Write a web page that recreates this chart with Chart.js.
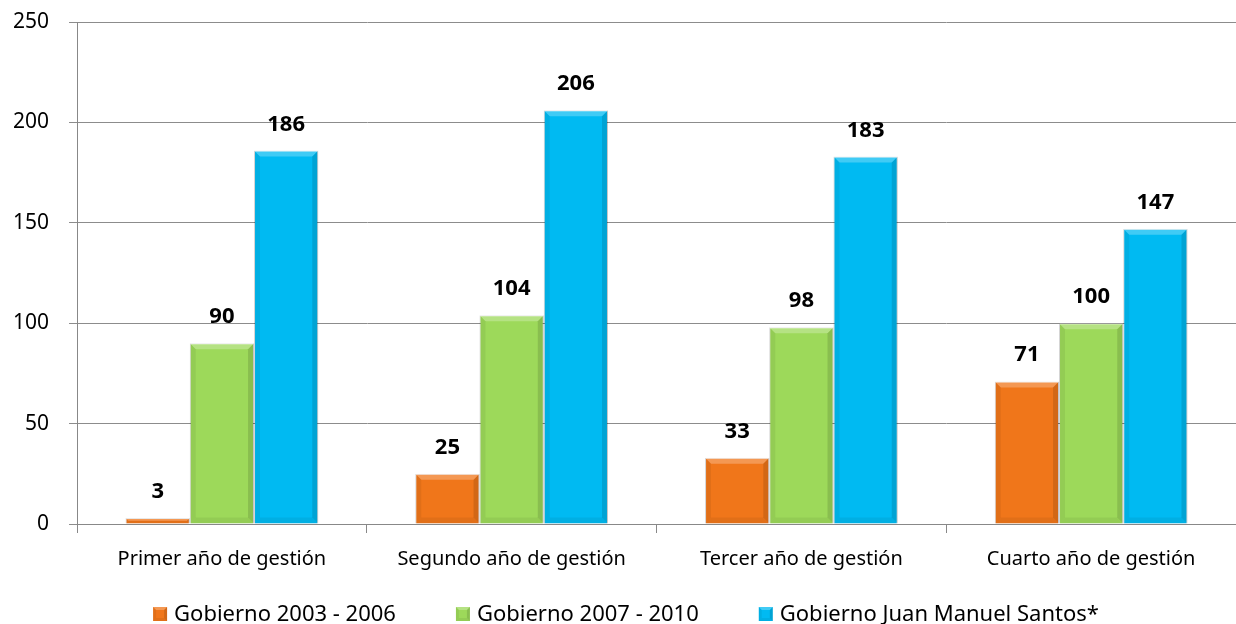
<!DOCTYPE html>
<html>
<head>
<meta charset="utf-8">
<script src="https://cdn.jsdelivr.net/npm/chart.js@4"></script>
<style>
  html, body { margin: 0; padding: 0; background: #fff; }
  #wrap { width: 1236px; height: 624px; position: relative; }
</style>
</head>
<body>
<div id="wrap"><canvas id="chart"></canvas></div>
<script>
// datos del gráfico
const categories = ['Primer año de gestión', 'Segundo año de gestión', 'Tercer año de gestión', 'Cuarto año de gestión'];
const seriesNames = ['Gobierno 2003 - 2006', 'Gobierno 2007 - 2010', 'Gobierno Juan Manuel Santos*'];
const gob2003 = [3, 25, 33, 71];
const gob2007 = [90, 104, 98, 100];
const gobSantos = [186, 206, 183, 147];
const yTicks = [0, 50, 100, 150, 200, 250];

const colors = ['#F0761A', '#9DD95A', '#00BAF2'];
const FONT = '"Noto Sans", "Open Sans", sans-serif';
const RIGHT_OVERFLOW = -17; // el área sigue más allá del borde derecho (imagen recortada)

// dibuja un rectángulo con bisel (barras y cuadritos de la leyenda)
function bevelRect(ctx, l, t, r, b, e) {
  ctx.fillStyle = 'rgba(255,255,255,0.25)';
  ctx.beginPath();
  ctx.moveTo(l, t); ctx.lineTo(r, t); ctx.lineTo(r - e, t + e); ctx.lineTo(l + e, t + e); ctx.closePath();
  ctx.fill();
  ctx.fillStyle = 'rgba(0,0,0,0.06)';
  ctx.beginPath();
  ctx.moveTo(l, t); ctx.lineTo(l + e, t + e); ctx.lineTo(l + e, b - e); ctx.lineTo(l, b); ctx.closePath();
  ctx.fill();
  ctx.fillStyle = 'rgba(0,0,0,0.12)';
  ctx.beginPath();
  ctx.moveTo(r, t); ctx.lineTo(r - e, t + e); ctx.lineTo(r - e, b - e); ctx.lineTo(r, b); ctx.closePath();
  ctx.fill();
  ctx.fillStyle = 'rgba(0,0,0,0.06)';
  ctx.beginPath();
  ctx.moveTo(l, b); ctx.lineTo(l + e, b - e); ctx.lineTo(r - e, b - e); ctx.lineTo(r, b); ctx.closePath();
  ctx.fill();
}

const bevel = {
  id: 'bevel',
  afterDatasetDraw(chart, args) {
    const { ctx } = chart;
    ctx.save();
    args.meta.data.forEach((bar) => {
      const l = bar.x - bar.width / 2, r = bar.x + bar.width / 2;
      const e = Math.min(6, (bar.base - bar.y) / 2);
      bevelRect(ctx, l, bar.y, r, bar.base, e);
    });
    ctx.restore();
  }
};

// etiquetas encima de las barras
const valueLabels = {
  id: 'valueLabels',
  afterDatasetsDraw(chart) {
    const { ctx } = chart;
    ctx.save();
    ctx.font = 'bold 22px ' + FONT;
    ctx.fillStyle = '#000';
    ctx.textAlign = 'center';
    ctx.textBaseline = 'alphabetic';
    chart.data.datasets.forEach((ds, i) => {
      chart.getDatasetMeta(i).data.forEach((bar, j) => {
        ctx.fillText(String(ds.data[j]), bar.x, bar.y - 20);
      });
    });
    ctx.restore();
  }
};

// leyenda propia (cuadrito pegado al texto, mucho espacio entre items)
const bottomLegend = {
  id: 'bottomLegend',
  afterDraw(chart) {
    const { ctx } = chart;
    const box = 14, gap = 7, spacing = 60;
    ctx.save();
    ctx.font = '22px ' + FONT;
    ctx.textBaseline = 'alphabetic';
    ctx.textAlign = 'left';
    const widths = seriesNames.map((s) => box + gap + ctx.measureText(s).width);
    const total = widths.reduce((a, b) => a + b, 0) + spacing * (widths.length - 1);
    let x = (chart.width - total) / 2 + 8;
    const baseY = chart.height - 3;
    seriesNames.forEach((name, i) => {
      ctx.fillStyle = colors[i];
      ctx.fillRect(x, baseY - box, box, box);
      bevelRect(ctx, x, baseY - box, x + box, baseY, 3);
      ctx.fillStyle = '#000';
      ctx.fillText(name, x + box + gap, baseY);
      x += widths[i] + spacing;
    });
    ctx.restore();
  }
};

const data = {
  labels: categories,
  datasets: [gob2003, gob2007, gobSantos].map((vals, i) => ({
    label: seriesNames[i],
    data: vals,
    backgroundColor: colors[i],
    borderColor: 'rgba(0,0,0,0.12)',
    borderWidth: 1,
    barPercentage: 1.0,
    categoryPercentage: 0.665,
  })),
};

new Chart(document.getElementById('chart'), {
  type: 'bar',
  data,
  plugins: [bevel, valueLabels, bottomLegend],
  options: {
    responsive: true,
    maintainAspectRatio: false,
    animation: false,
    layout: { padding: { left: -7, right: RIGHT_OVERFLOW, top: 0, bottom: 39 } },
    plugins: {
      legend: { display: false },
      tooltip: { enabled: false },
    },
    scales: {
      x: {
        afterFit(axis) { axis.paddingRight = RIGHT_OVERFLOW; },
        grid: { offset: true, drawOnChartArea: false, color: '#888', tickLength: 9 },
        border: { color: '#888', width: 1 },
        ticks: { color: '#000', font: { family: FONT, size: 20 }, padding: 14 },
      },
      y: {
        min: 0,
        max: 250,
        afterBuildTicks(axis) { axis.ticks = yTicks.map((v) => ({ value: v })); },
        // el padding de las etiquetas no debe empujar el área hacia abajo
        afterFit(axis) { axis.paddingTop = 22; axis.paddingRight = RIGHT_OVERFLOW; },
        grid: { color: '#8c8c8c', tickLength: 8 },
        border: { color: '#888', width: 1 },
        ticks: { color: '#000', font: { family: FONT, size: 21 }, padding: 20 },
      },
    },
  },
});
</script>
</body>
</html>
